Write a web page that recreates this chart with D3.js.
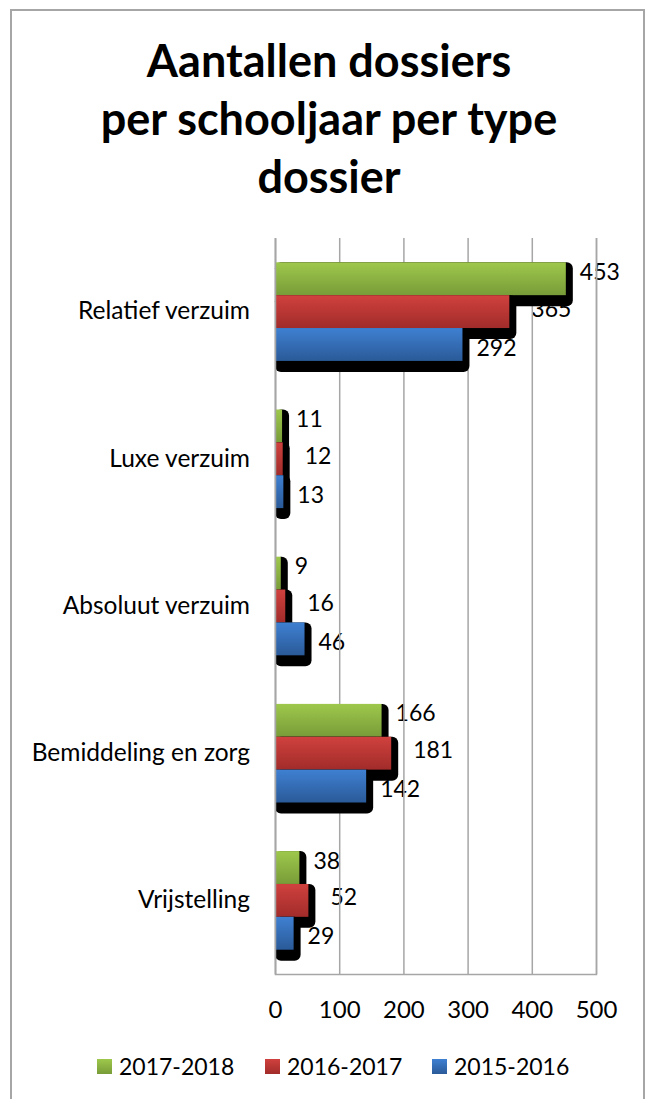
<!DOCTYPE html>
<html lang="nl">
<head>
<meta charset="utf-8">
<title>Aantallen dossiers</title>
<script src="https://d3js.org/d3.v7.min.js"></script>
<style>
  body { margin: 0; background: #fff; font-family: Lato, "Open Sans", sans-serif; }
</style>
</head>
<body>
<div id="chart"></div>
<script>
// data
var categories = ["Relatief verzuim", "Luxe verzuim", "Absoluut verzuim", "Bemiddeling en zorg", "Vrijstelling"];
var seriesNames = ["2017-2018", "2016-2017", "2015-2016"];
var values2017 = [453, 11, 9, 166, 38];
var values2016 = [365, 12, 16, 181, 52];
var values2015 = [292, 13, 46, 142, 29];
var xTicks = [0, 100, 200, 300, 400, 500];
var titleLines = ["Aantallen dossiers", "per schooljaar per type", "dossier"];

var W = 648, H = 1099;
var plot = {left: 275, right: 596, top: 238, bottom: 974};

var seriesValues = [values2017, values2016, values2015];
// per series look: gradient top/bottom and label nudges
var looks = [
  {top: "#9ec84c", bottom: "#789c38", dx: 14, dy: -7},
  {top: "#d0413e", bottom: "#a12c2a", dx: 22, dy: -3},
  {top: "#3f80d2", bottom: "#2a5a98", dx: 14, dy: 3}
];

var svg = d3.select("#chart").append("svg")
  .attr("width", W).attr("height", H);

var defs = svg.append("defs");
looks.forEach(function(l, i) {
  var g = defs.append("linearGradient").attr("id", "grad" + i)
    .attr("x1", 0).attr("y1", 0).attr("x2", 0).attr("y2", 1);
  g.append("stop").attr("offset", "0%").attr("stop-color", l.top);
  g.append("stop").attr("offset", "100%").attr("stop-color", l.bottom);
});

// outer frame (open at the bottom, runs off the page)
svg.append("path")
  .attr("d", "M11," + (H + 5) + "V10H644V" + (H + 5))
  .attr("fill", "none").attr("stroke", "#a6a6a6").attr("stroke-width", 2);

// title
svg.append("g").selectAll("text")
  .data(titleLines).enter().append("text")
  .attr("x", 329)
  .attr("y", function(d, i) { return 77 + i * 58; })
  .attr("text-anchor", "middle")
  .attr("font-size", 45).attr("font-weight", "bold")
  .attr("fill", "#000")
  .text(function(d) { return d; });

var xScale = d3.scaleLinear().domain([0, 500]).range([plot.left, plot.right]);
var yScale = d3.scaleBand().domain(categories)
  .range([plot.top, plot.bottom]).paddingInner(0.33).paddingOuter(0.165);
var ySub = d3.scaleBand().domain(seriesNames).range([0, yScale.bandwidth()]);

// data labels (drawn first, the grid sits over them like in the original)
var labels = svg.append("g");
seriesValues.forEach(function(vals, s) {
  labels.selectAll(".lab" + s)
    .data(vals).enter().append("text")
    .attr("class", "lab" + s)
    .attr("x", function(d) { return xScale(d) + looks[s].dx; })
    .attr("y", function(d, i) { return yScale(categories[i]) + ySub(seriesNames[s]) + ySub.bandwidth() / 2 + looks[s].dy; })
    .attr("dy", "0.35em")
    .attr("font-size", 23).attr("fill", "#000")
    .text(function(d) { return d; });
});

// gridlines + axis frame
var xAxis = d3.axisBottom(xScale).tickValues(xTicks)
  .tickSize(-(plot.bottom - plot.top)).tickPadding(27);
var gx = svg.append("g")
  .attr("transform", "translate(0," + plot.bottom + ")")
  .call(xAxis);
gx.select(".domain").attr("stroke", "#a6a6a6").attr("stroke-width", 1.5);
gx.selectAll(".tick line").attr("stroke", "#a6a6a6").attr("stroke-width", 1.5);
gx.selectAll(".tick text").attr("font-size", 24).attr("fill", "#000")
  .attr("font-family", "Lato, sans-serif");

// bars with their heavy black shadow
var bars = svg.append("g");
seriesValues.forEach(function(vals, s) {
  var g = bars.append("g");
  g.selectAll(".shadow")
    .data(vals).enter().append("rect")
    .attr("class", "shadow")
    .attr("x", xScale(0))
    .attr("y", function(d, i) { return yScale(categories[i]) + ySub(seriesNames[s]); })
    .attr("width", function(d) { return xScale(d) - xScale(0) + 7; })
    .attr("height", ySub.bandwidth() + 11)
    .attr("rx", 6).attr("fill", "#000");
  g.selectAll(".bar")
    .data(vals).enter().append("rect")
    .attr("class", "bar")
    .attr("x", xScale(0))
    .attr("y", function(d, i) { return yScale(categories[i]) + ySub(seriesNames[s]); })
    .attr("width", function(d) { return xScale(d) - xScale(0); })
    .attr("height", ySub.bandwidth())
    .attr("fill", "url(#grad" + s + ")");
});

// left axis line and category names
var yAxis = d3.axisLeft(yScale).tickSize(0).tickPadding(25);
var gy = svg.append("g")
  .attr("transform", "translate(" + plot.left + ",0)")
  .call(yAxis);
gy.select(".domain").attr("stroke", "#a6a6a6").attr("stroke-width", 1.5);
gy.selectAll(".tick text").attr("font-size", 24.5).attr("fill", "#000")
  .attr("font-family", "Lato, sans-serif");

// legend
var legendX = [97, 265, 432];
var legend = svg.append("g").selectAll("g")
  .data(seriesNames).enter().append("g")
  .attr("transform", function(d, i) { return "translate(" + legendX[i] + ",1059)"; });
legend.append("rect")
  .attr("width", 15).attr("height", 15)
  .attr("fill", function(d, i) { return "url(#grad" + i + ")"; });
legend.append("text")
  .attr("x", 22).attr("y", 7.5).attr("dy", "0.35em")
  .attr("font-size", 23).attr("fill", "#000")
  .text(function(d) { return d; });
</script>
</body>
</html>
